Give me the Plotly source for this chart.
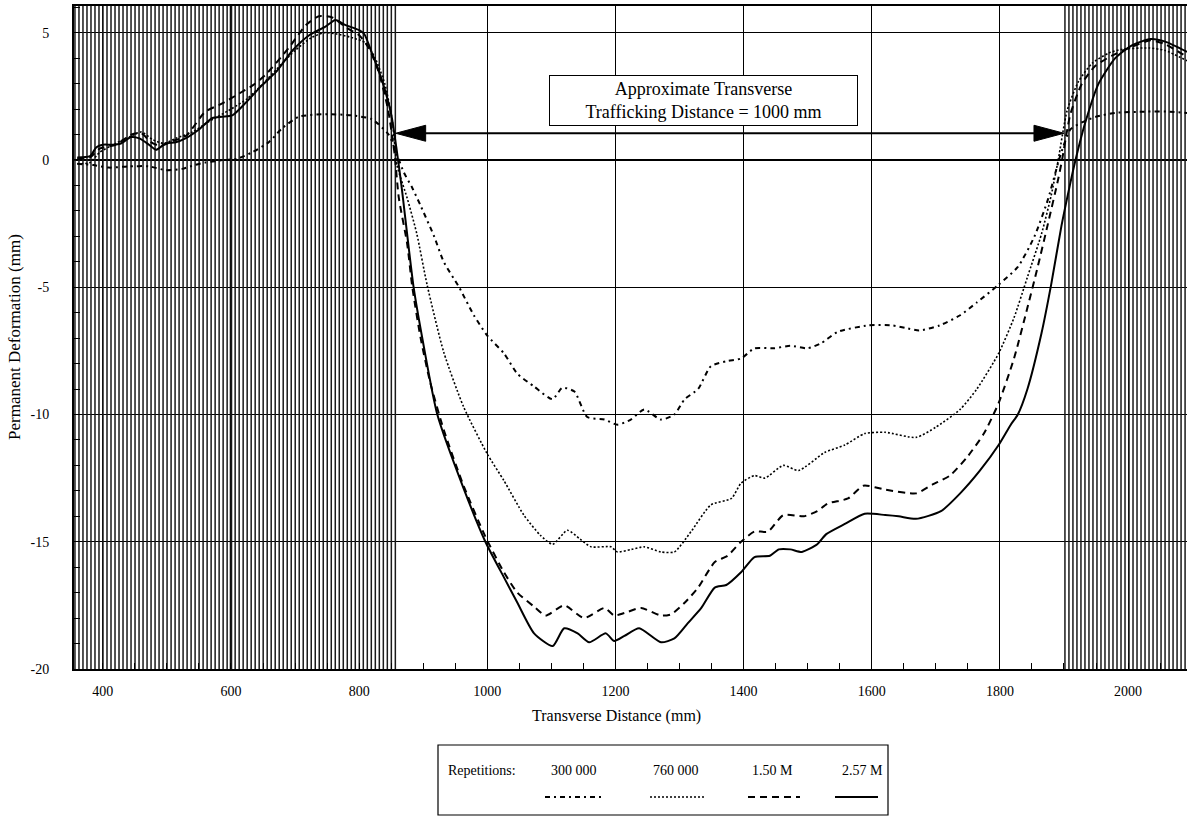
import numpy as np
import plotly.graph_objects as go

# ---------------- data ----------------
X_RANGE = [355, 2092]
Y_RANGE = [-20, 6.05]
X_TICKS = [400, 600, 800, 1000, 1200, 1400, 1600, 1800, 2000]
Y_TICKS = [-20, -15, -10, -5, 0, 5]
Y_TICK_TEXT = ["-20", "-15", "-10", "-5", "0", "5"]

SHADE_LEFT = [355, 857]
SHADE_RIGHT = [1900, 2092]
ARROW_X = [857, 1900]
ARROW_Y = 1.05

LABELS = ["300 000", "760 000", "1.50 M", "2.57 M"]

S300_X = [360, 385, 410, 440, 472, 498, 524, 543, 560, 590, 610, 633, 659, 680, 706, 748, 789, 820, 846, 859,
          870, 883, 896, 917, 932, 956, 979, 1000, 1026, 1047, 1073, 1102, 1117, 1136, 1156, 1183, 1203, 1224,
          1245, 1271, 1292, 1308, 1329, 1349, 1375, 1396, 1417, 1447, 1473, 1500, 1521, 1547, 1595, 1632, 1653,
          1674, 1706, 1738, 1764, 1798, 1828, 1854, 1875, 1894, 1910, 1930, 1950, 1980, 2030, 2060, 2092]
S300_Y = [-0.15, -0.2, -0.3, -0.25, -0.25, -0.4, -0.35, -0.2, -0.1, 0.0, 0.05, 0.3, 0.7, 1.25, 1.7, 1.8, 1.75,
          1.6, 1.0, 0.2, -0.5, -1.1, -1.8, -3.0, -4.0, -5.0, -6.1, -6.9, -7.6, -8.4, -8.9, -9.4, -8.95, -9.1,
          -10.1, -10.2, -10.4, -10.2, -9.8, -10.2, -10.0, -9.4, -9.0, -8.1, -7.9, -7.8, -7.4, -7.4, -7.3, -7.4,
          -7.2, -6.75, -6.5, -6.5, -6.6, -6.7, -6.5, -6.1, -5.6, -4.9, -4.2, -3.0, -1.55, 0.15, 1.2, 1.5, 1.7,
          1.85, 1.9, 1.9, 1.85]

S760_X = [360, 380, 395, 420, 445, 460, 478, 495, 514, 540, 565, 600, 625, 650, 680, 700, 725, 745, 765, 790,
          810, 825, 840, 852, 859, 875, 890, 906, 932, 963, 1000, 1026, 1057, 1083, 1102, 1125, 1145, 1162, 1193,
          1203, 1225, 1245, 1271, 1292, 1318, 1349, 1381, 1396, 1417, 1433, 1462, 1486, 1526, 1558, 1589, 1621,
          1669, 1700, 1738, 1764, 1798, 1822, 1843, 1865, 1880, 1891, 1905, 1923, 1944, 1970, 1991, 2033, 2058,
          2092]
S760_Y = [-0.15, -0.1, 0.3, 0.65, 0.95, 1.1, 0.8, 0.65, 0.85, 1.1, 1.5, 2.0, 2.4, 3.0, 3.8, 4.3, 4.8, 5.0, 4.95,
          4.8, 4.6, 4.0, 3.0, 1.5, -0.2, -1.5, -2.9, -4.9, -7.55, -9.7, -11.55, -12.6, -13.95, -14.75, -15.1,
          -14.55, -14.9, -15.2, -15.2, -15.4, -15.3, -15.2, -15.4, -15.4, -14.6, -13.55, -13.3, -12.7, -12.4,
          -12.5, -12.0, -12.2, -11.5, -11.2, -10.75, -10.7, -10.9, -10.5, -9.8, -9.0, -7.6, -6.2, -4.6, -2.9,
          -1.4, 0.0, 1.95, 3.1, 3.8, 4.2, 4.35, 4.4, 4.3, 3.9]

S150_X = [360, 380, 395, 420, 445, 460, 475, 490, 510, 530, 560, 585, 612, 635, 654, 690, 717, 737, 758, 780,
          800, 815, 830, 845, 855, 862, 875, 883, 896, 911, 932, 963, 997, 1026, 1047, 1073, 1091, 1120, 1151,
          1183, 1198, 1214, 1240, 1271, 1287, 1308, 1329, 1355, 1375, 1396, 1417, 1438, 1462, 1494, 1515, 1531,
          1563, 1587, 1621, 1669, 1695, 1722, 1748, 1775, 1798, 1822, 1843, 1859, 1875, 1891, 1897, 1910, 1928,
          1949, 1975, 2006, 2035, 2058, 2092]
S150_Y = [0.05, 0.1, 0.45, 0.6, 1.0, 1.05, 0.7, 0.55, 0.75, 0.95, 1.9, 2.2, 2.6, 2.95, 3.35, 4.4, 5.3, 5.65, 5.6,
          5.2, 4.9, 4.4, 3.5, 2.0, 0.3, -1.5, -3.3, -5.0, -7.0, -8.75, -10.6, -12.8, -14.8, -16.2, -17.0, -17.55,
          -17.9, -17.5, -18.0, -17.6, -17.9, -17.8, -17.6, -17.9, -17.85, -17.4, -16.8, -15.8, -15.55, -15.0,
          -14.6, -14.6, -13.95, -14.0, -13.8, -13.5, -13.3, -12.8, -12.95, -13.1, -12.75, -12.4, -11.7, -10.75,
          -9.55, -7.8, -5.8, -4.2, -2.5, -0.75, 0.0, 1.8, 3.0, 3.7, 4.1, 4.45, 4.7, 4.55, 4.05]

S257_X = [360, 380, 390, 400, 415, 428, 444, 457, 472, 483, 498, 514, 529, 550, 571, 586, 602, 623, 649, 670,
          696, 722, 748, 763, 779, 800, 808, 820, 836, 850, 858, 866, 885, 900, 922, 963, 997, 1026, 1047, 1073,
          1102, 1120, 1141, 1159, 1185, 1198, 1214, 1237, 1271, 1292, 1313, 1334, 1355, 1373, 1396, 1417, 1441,
          1455, 1473, 1491, 1515, 1529, 1558, 1589, 1621, 1642, 1669, 1708, 1738, 1769, 1798, 1817, 1828, 1843,
          1865, 1880, 1896, 1910, 1918, 1933, 1954, 1980, 2006, 2035, 2058, 2092]
S257_Y = [0.1, 0.15, 0.5, 0.6, 0.6, 0.65, 0.9, 0.85, 0.6, 0.4, 0.65, 0.7, 0.85, 1.2, 1.65, 1.7, 1.75, 2.25, 2.95,
          3.45, 4.3, 4.9, 5.25, 5.5, 5.3, 5.1, 4.95, 4.2, 3.1, 1.8, 0.5, -1.0, -5.0, -7.2, -10.0, -12.9, -15.0,
          -16.4, -17.4, -18.6, -19.1, -18.4, -18.6, -18.95, -18.6, -18.9, -18.7, -18.4, -18.95, -18.8, -18.2,
          -17.6, -16.8, -16.7, -16.2, -15.6, -15.55, -15.3, -15.3, -15.4, -15.1, -14.7, -14.3, -13.9, -13.95,
          -14.0, -14.1, -13.8, -13.1, -12.2, -11.2, -10.4, -10.0, -9.0, -6.8, -4.9, -2.6, -0.9, 0.0, 1.45, 3.0,
          4.0, 4.5, 4.75, 4.65, 4.25]

# ---------------- layout geometry ----------------
W, H = 1187, 816
ML, MR, MT, MB = 74, 0, 6, 147
PW, PH = W - ML - MR, H - MT - MB
FONT = "Liberation Serif"


def px(x):
    return (x - ML) / PW


def py(y):
    return (H - MB - y) / PH


fig = go.Figure()

# hatching of the untrafficked zones
hx, hy = [], []
for a, b in (SHADE_LEFT, SHADE_RIGHT):
    for xv in np.arange(a + 1.5, b, 6.25):
        hx += [xv, xv, None]
        hy += [Y_RANGE[0], Y_RANGE[1], None]
fig.add_trace(go.Scatter(x=hx, y=hy, mode="lines", line=dict(color="#1a1a1a", width=1.5),
                         hoverinfo="skip", showlegend=False))

styles = [
    (S300_X, S300_Y, dict(color="black", width=2, dash="5px,4px,2px,4px")),
    (S760_X, S760_Y, dict(color="black", width=1.6, dash="2px,2px")),
    (S150_X, S150_Y, dict(color="black", width=2, dash="7px,5px")),
    (S257_X, S257_Y, dict(color="black", width=2)),
]
for (xs, ys, ln), name in zip(styles, LABELS):
    fig.add_trace(go.Scatter(x=xs, y=ys, mode="lines", line=dict(shape="spline", smoothing=0.6, **ln),
                             name=name, showlegend=False))

shapes = []
# bold grid line inside the hatched zone
shapes.append(dict(type="line", xref="x", yref="y", x0=600, x1=600, y0=Y_RANGE[0], y1=Y_RANGE[1],
                   line=dict(color="black", width=2.5), layer="below"))
# arrow shaft
shapes.append(dict(type="line", xref="x", yref="y", x0=ARROW_X[0] + 20, x1=ARROW_X[1] - 20,
                   y0=ARROW_Y, y1=ARROW_Y, line=dict(color="black", width=2)))
# arrow heads (pixel sized)
shapes.append(dict(type="path", xref="x", yref="y", xsizemode="pixel", ysizemode="pixel",
                   xanchor=ARROW_X[0], yanchor=ARROW_Y, path="M0,0 L30,8 L30,-8 Z",
                   fillcolor="black", line=dict(color="black", width=1)))
shapes.append(dict(type="path", xref="x", yref="y", xsizemode="pixel", ysizemode="pixel",
                   xanchor=ARROW_X[1], yanchor=ARROW_Y, path="M0,0 L-30,8 L-30,-8 Z",
                   fillcolor="black", line=dict(color="black", width=1)))

# legend box
LB = dict(x0=438, x1=888, y0=745, y1=815)
shapes.append(dict(type="rect", xref="paper", yref="paper", x0=px(LB["x0"]), x1=px(LB["x1"]),
                   y0=py(LB["y1"]), y1=py(LB["y0"]), line=dict(color="black", width=1.2),
                   fillcolor="white"))
col_c = [574, 676, 772, 862]
samp_rng = [(545, 603), (650, 705), (748, 800), (835, 878)]
for (a, b), (_, _, ln) in zip(samp_rng, styles):
    shapes.append(dict(type="line", xref="paper", yref="paper", x0=px(a), x1=px(b),
                       y0=py(797), y1=py(797), line=ln))

annotations = []
annotations.append(dict(xref="paper", yref="paper", x=px(482), y=py(771), xanchor="center", yanchor="middle",
                        text="Repetitions:", showarrow=False, font=dict(family=FONT, size=14, color="black")))
for c, lab in zip(col_c, LABELS):
    annotations.append(dict(xref="paper", yref="paper", x=px(c), y=py(771), xanchor="center",
                            yanchor="middle", text=lab, showarrow=False,
                            font=dict(family=FONT, size=14, color="black")))

# text box
annotations.append(dict(xref="x", yref="y", x=1337, y=2.34, xanchor="center", yanchor="middle",
                        showarrow=False, text="Approximate Transverse<br>Trafficking Distance = 1000 mm",
                        font=dict(family=FONT, size=18, color="black"), bgcolor="white",
                        bordercolor="black", borderwidth=1, width=305, height=47, align="center"))

# axis titles
annotations.append(dict(xref="paper", yref="paper", x=px(616), y=py(716), xanchor="center", yanchor="middle",
                        text="Transverse Distance (mm)", showarrow=False,
                        font=dict(family=FONT, size=16, color="black")))
annotations.append(dict(xref="paper", yref="paper", x=px(14), y=py(337), xanchor="center", yanchor="middle",
                        text="Permanent Deformation (mm)", showarrow=False, textangle=-90,
                        font=dict(family=FONT, size=17, color="black")))

fig.update_layout(
    width=W, height=H, margin=dict(l=ML, r=MR, t=MT, b=MB),
    paper_bgcolor="white", plot_bgcolor="white", showlegend=False,
    shapes=shapes, annotations=annotations,
    font=dict(family=FONT, size=14, color="black"),
)
fig.update_xaxes(range=X_RANGE, tickvals=X_TICKS, showgrid=True, gridcolor="black", gridwidth=1,
                 showline=True, linecolor="black", linewidth=2, mirror=True, ticks="", zeroline=False,
                 ticklabelstandoff=8, tickfont=dict(family=FONT, size=14),
                 minor=dict(dtick=50, tick0=0, ticks="inside", ticklen=6, tickcolor="black", showgrid=False))
fig.update_yaxes(range=Y_RANGE, tickvals=Y_TICKS, ticktext=Y_TICK_TEXT, showgrid=True, gridcolor="black",
                 gridwidth=1, showline=True, linecolor="black", linewidth=2, mirror=False, ticks="",
                 zeroline=True, zerolinecolor="black", zerolinewidth=2,
                 ticklabelstandoff=20, tickfont=dict(family=FONT, size=14),
                 minor=dict(dtick=1, tick0=0, ticks="inside", ticklen=6, tickcolor="black", showgrid=False))

fig.write_html("out.html")
